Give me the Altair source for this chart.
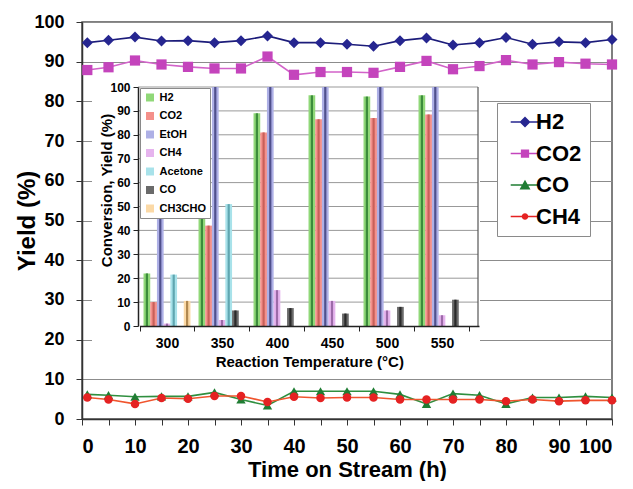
import altair as alt
import pandas as pd

FONT = "Liberation Sans"

# ---------------- main chart data ----------------
time_h = [1, 5, 10, 15, 20, 25, 30, 35, 40, 45, 50, 55, 60, 65, 70, 75, 80, 85, 90, 95, 100]
h2_yield = [94.8, 95.4, 96.2, 95.2, 95.3, 94.8, 95.3, 96.5, 94.8, 94.8, 94.4, 93.9, 95.3, 96.0, 94.2, 94.8, 96.1, 94.4, 95.0, 94.8, 95.6]
co2_yield = [87.9, 88.6, 90.3, 89.3, 88.7, 88.3, 88.3, 91.3, 86.7, 87.4, 87.4, 87.2, 88.7, 90.2, 88.1, 88.9, 90.4, 89.3, 89.9, 89.5, 89.3]
co_yield = [6.2, 6.0, 5.6, 5.7, 5.7, 6.7, 4.9, 3.4, 7.0, 7.0, 7.0, 7.0, 6.2, 3.8, 6.4, 6.0, 3.8, 5.4, 5.4, 5.7, 5.4]
ch4_yield = [5.4, 4.9, 3.8, 5.3, 5.1, 5.8, 5.8, 4.3, 5.6, 5.3, 5.4, 5.4, 4.9, 4.9, 4.9, 4.9, 4.5, 4.9, 4.5, 4.7, 4.7]
series_names = ["H2", "CO2", "CO", "CH4"]

# ---------------- inset data ----------------
temps = ["300", "350", "400", "450", "500", "550"]
inset_species = ["H2", "CO2", "EtOH", "CH4", "Acetone", "CO", "CH3CHO"]
ins_h2 = [22, 61, 89, 96.5, 96, 96.5]
ins_co2 = [10, 42, 81, 86.5, 87, 88.5]
ins_etoh = [45, 100, 100, 100, 100, 100]
ins_ch4 = [1, 2.5, 15, 10.5, 6.5, 4.5]
ins_acetone = [21.5, 51, 0, 0, 0, 0]
ins_co = [0, 6.5, 7.5, 5.2, 8, 11]
ins_ch3cho = [10.5, 0, 0, 0, 0, 0]
inset_ticks = [10, 20, 30, 40, 50, 60, 70, 80, 90, 100]

# ---------------- styles ----------------
line_colors = ["#1c1c7a", "#d263c9", "#2f8f3f", "#f0552e"]
marker_colors = ["#262690", "#c444bc", "#1f7d33", "#e52222"]
marker_shapes = ["diamond", "square", "triangle-up", "circle"]
marker_sizes = [121, 72, 110, 50]
seg = "M-2.6,-0.13H2.6V0.13H-2.6Z"
legend_paths = [
    seg + "M0,-1L1,0L0,1L-1,0Z",
    seg + "M-0.75,-0.75H0.75V0.75H-0.75Z",
    seg + "M0,-0.95L1,0.8H-1Z",
    seg + "M0.6,0A0.6,0.6 0 1,1 -0.6,0A0.6,0.6 0 1,1 0.6,0Z",
]
bar_colors = ["#90d878", "#f4908a", "#aeb0e6", "#e6b4ee", "#a8e2ea", "#6a6a6a", "#fbd9a6"]
bar_side_colors = ["#3c8c3c", "#c8605a", "#50508c", "#9c6aa8", "#5fa6b0", "#2a2a2a", "#b08850"]

rows = []
for name, vals in zip(series_names, [h2_yield, co2_yield, co_yield, ch4_yield]):
    for t, v in zip(time_h, vals):
        rows.append({"t": t, "y": v, "series": name})
main_df = pd.DataFrame(rows)

brows = []
for sp, vals in zip(inset_species, [ins_h2, ins_co2, ins_etoh, ins_ch4, ins_acetone, ins_co, ins_ch3cho]):
    for tp, v in zip(temps, vals):
        brows.append({"temp": tp, "species": sp, "v": v})
bar_df = pd.DataFrame(brows)

W, H = 530, 397

x_scale_main = alt.Scale(domain=[0, 100], nice=False, zero=False)
y_scale_main = alt.Scale(domain=[0, 100], nice=False)

X_main = alt.X(
    "t:Q", scale=x_scale_main,
    axis=alt.Axis(
        values=list(range(0, 101, 5)),
        labelExpr="datum.value % 10 == 0 ? datum.label : ''",
        grid=False, domainColor="#333", domainWidth=1.5, tickColor="#333", tickSize=6,
        labelFont=FONT, labelFontSize=20, labelFontWeight="bold", labelColor="black", labelPadding=11,
        title="Time on Stream (h)", titleFont=FONT, titleFontSize=22, titleFontWeight="bold",
        titleColor="black", titlePadding=3,
    ),
)
Y_main = alt.Y(
    "y:Q", scale=y_scale_main,
    axis=alt.Axis(
        values=list(range(0, 101, 10)),
        grid=True, gridColor="#8c8c8c", gridWidth=1,
        domainColor="#333", domainWidth=1.5, tickColor="#333", tickSize=6,
        labelFont=FONT, labelFontSize=18, labelFontWeight="bold", labelColor="black", labelPadding=12,
        title="Yield (%)", titleFont=FONT, titleFontSize=24, titleFontWeight="bold",
        titleColor="black", titleX=-43,
    ),
)
X_plain = alt.X("t:Q", scale=x_scale_main, axis=None)
Y_plain = alt.Y("y:Q", scale=y_scale_main, axis=None)

lines = alt.Chart(main_df).mark_line(strokeWidth=1.6).encode(
    x=X_main, y=Y_main,
    stroke=alt.Stroke("series:N", scale=alt.Scale(domain=series_names, range=line_colors), legend=None),
)
points = alt.Chart(main_df).mark_point(filled=True, opacity=1).encode(
    x=X_plain, y=Y_plain,
    color=alt.Color("series:N", scale=alt.Scale(domain=series_names, range=marker_colors), legend=None),
    shape=alt.Shape("series:N", scale=alt.Scale(domain=series_names, range=marker_shapes), legend=None),
    size=alt.Size("series:N", scale=alt.Scale(domain=series_names, range=marker_sizes), legend=None),
)
leg_cfg = dict(
    title=None, orient="none", legendX=415, legendY=81, fillColor="white", strokeColor="#8a8a8a",
    padding=8, labelFont=FONT, labelFontSize=22, labelFontWeight="bold", labelColor="black",
    symbolSize=121, symbolOffset=9, labelOffset=0, rowPadding=9.5, symbolStrokeWidth=0, labelLimit=300,
)
legend_layer = alt.Chart(main_df).mark_point(filled=True, opacity=1).encode(
    x=X_plain, y=Y_plain,
    color=alt.Color("series:N", scale=alt.Scale(domain=series_names, range=marker_colors), legend=alt.Legend(**leg_cfg)),
    shape=alt.Shape("series:N", scale=alt.Scale(domain=series_names, range=legend_paths), legend=alt.Legend(**leg_cfg)),
).transform_filter("false")

# ---------------- inset ----------------
Y_in_scale = alt.Scale(domain=[0, 100], range=[304, 65], nice=False)
X_in_scale = alt.Scale(domain=temps, range=[57.5, 397], paddingInner=0, paddingOuter=0.0864, align=0)
XO_in_scale = alt.Scale(domain=inset_species, paddingInner=0, paddingOuter=0.6)

bg = alt.Chart(pd.DataFrame({"k": [0]})).mark_rect(fill="white", opacity=1).encode(
    x=alt.value(10), x2=alt.value(398), y=alt.value(58), y2=alt.value(350)
)
grid = alt.Chart(pd.DataFrame({"g": inset_ticks})).mark_rule(color="#999999", strokeWidth=1).encode(
    y=alt.Y("g:Q", scale=Y_in_scale, axis=None), x=alt.value(56), x2=alt.value(396)
)
wall = alt.Chart(pd.DataFrame({"lo": [0], "hi": [100]})).mark_rule(color="#555", strokeWidth=1.2).encode(
    y=alt.Y("lo:Q", scale=Y_in_scale, axis=None), y2="hi:Q", x=alt.value(396)
)
bars = alt.Chart(bar_df).mark_bar().encode(
    x=alt.X(
        "temp:N", sort=temps, scale=X_in_scale,
        axis=alt.Axis(
            orient="bottom", offset=-93, labelAngle=0, tickBand="extent", tickSize=5, zindex=2,
            domainColor="#222", domainWidth=1.5, tickColor="#222",
            labelFont=FONT, labelFontSize=14, labelFontWeight="bold", labelColor="black", labelPadding=5,
            title="Reaction Temperature (°C)", titleFont=FONT, titleFontSize=15, titleFontWeight="bold",
            titleColor="black", titlePadding=4,
        ),
    ),
    xOffset=alt.XOffset("species:N", sort=inset_species, scale=XO_in_scale),
    y=alt.Y(
        "v:Q", scale=Y_in_scale,
        axis=alt.Axis(
            orient="left", offset=-56, values=list(range(0, 101, 10)), grid=False, tickSize=5, zindex=2,
            domainColor="#222", domainWidth=1.5, tickColor="#222",
            labelFont=FONT, labelFontSize=12, labelFontWeight="bold", labelColor="black", labelPadding=3,
            title="Conversion, Yield (%)", titleFont=FONT, titleFontSize=15, titleFontWeight="bold",
            titleColor="black", titleX=-24, titleY=168,
        ),
    ),
    color=alt.Color(
        "species:N", scale=alt.Scale(domain=inset_species, range=bar_colors),
        legend=alt.Legend(
            title=None, orient="none", legendX=58, legendY=66, fillColor="white", strokeColor="#8a8a8a",
            padding=4, labelFont=FONT, labelFontSize=11, labelFontWeight="bold", labelColor="black",
            symbolType="square", symbolSize=64, rowPadding=6.5, labelOffset=4, symbolOffset=0.5,
            symbolStrokeWidth=0,
        ),
    ),
)
bar_sides = alt.Chart(bar_df).mark_bar(width=2.2, xOffset=2.3).encode(
    x=alt.X("temp:N", sort=temps, scale=X_in_scale, axis=None),
    xOffset=alt.XOffset("species:N", sort=inset_species, scale=XO_in_scale),
    y=alt.Y("v:Q", scale=Y_in_scale, axis=None),
    color=alt.Color("species:N", scale=alt.Scale(domain=inset_species, range=bar_side_colors), legend=None),
)

chart = (
    alt.layer(lines, points, legend_layer, bg, grid, wall, bars, bar_sides)
    .resolve_scale(x="independent", y="independent", color="independent", shape="independent")
    .properties(width=W, height=H, autosize="none",
                padding={"left": 74, "top": 14, "right": 13, "bottom": 62})
    .configure_view(stroke="#555", strokeWidth=1.5)
)

chart.save("out.html", embed_options={"renderer": "svg", "actions": False})
